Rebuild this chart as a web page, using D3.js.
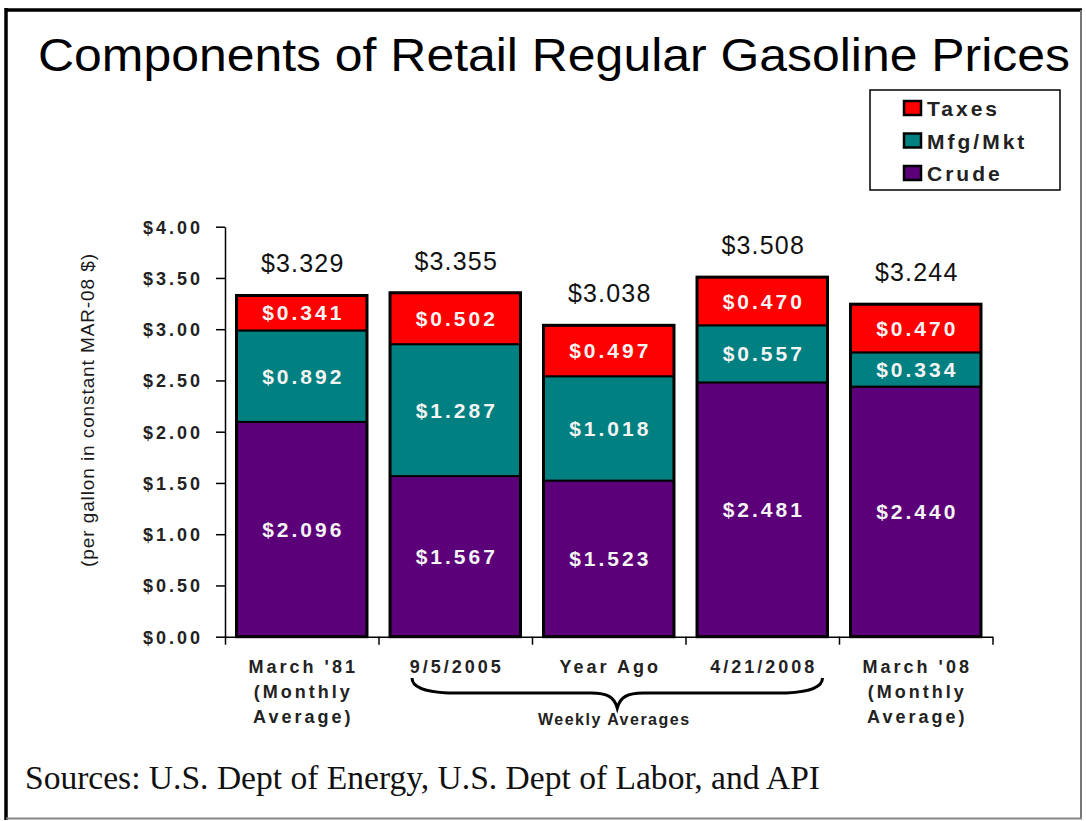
<!DOCTYPE html>
<html>
<head>
<meta charset="utf-8">
<script src="https://cdn.jsdelivr.net/npm/d3@7"></script>
<style>
  body { margin: 0; background: #fff; }
  svg { display: block; }
  text { font-family: "Liberation Sans", Arial, sans-serif; }
</style>
</head>
<body>
<svg width="1086" height="821"></svg>
<script>
// values
var categories = [
  ["March '81", "(Monthly", "Average)"],
  ["9/5/2005"],
  ["Year Ago"],
  ["4/21/2008"],
  ["March '08", "(Monthly", "Average)"]
];
var crude = [2.096, 1.567, 1.523, 2.481, 2.440];
var mfgMkt = [0.892, 1.287, 1.018, 0.557, 0.334];
var taxes = [0.341, 0.502, 0.497, 0.470, 0.470];
var totals = [3.329, 3.355, 3.038, 3.508, 3.244];
var yTicks = [0, 0.5, 1, 1.5, 2, 2.5, 3, 3.5, 4];
var seriesNames = ["Crude", "Mfg/Mkt", "Taxes"];
var legendOrder = ["Taxes", "Mfg/Mkt", "Crude"];

var svg = d3.select("svg"),
    width = +svg.attr("width"),
    height = +svg.attr("height");

var color = d3.scaleOrdinal()
  .domain(seriesNames)
  .range(["#5c0079", "#008080", "#ff0000"]);

var rows = categories.map((c, i) => ({
  key: i,
  "Crude": crude[i],
  "Mfg/Mkt": mfgMkt[i],
  "Taxes": taxes[i],
  total: totals[i]
}));

var x = d3.scaleBand()
  .domain(rows.map(d => d.key))
  .range([225, 992.5])
  .paddingInner(0.15)
  .paddingOuter(0.075);

var xEdge = d3.scaleLinear()
  .domain([0, categories.length])
  .range(x.range());

var y = d3.scaleLinear()
  .domain([0, 4])
  .range([636.7, 226.7]);

// frame
svg.append("line").attr("x1", 6).attr("y1", 10).attr("x2", 1082).attr("y2", 10)
  .attr("stroke", "#000").attr("stroke-width", 3.5);
svg.append("line").attr("x1", 6).attr("y1", 8).attr("x2", 6).attr("y2", 820)
  .attr("stroke", "#000").attr("stroke-width", 3.5);
svg.append("line").attr("x1", 1081).attr("y1", 10).attr("x2", 1081).attr("y2", 819)
  .attr("stroke", "#777").attr("stroke-width", 2);
svg.append("line").attr("x1", 6).attr("y1", 818.5).attr("x2", 1082).attr("y2", 818.5)
  .attr("stroke", "#888").attr("stroke-width", 2);

// title
svg.append("text")
  .attr("x", 38).attr("y", 71)
  .attr("textLength", 1032)
  .attr("lengthAdjust", "spacingAndGlyphs")
  .style("font-size", "46px")
  .attr("fill", "#000")
  .text("Components of Retail Regular Gasoline Prices");

// stacked bars
var stack = d3.stack().keys(seriesNames);
var layers = stack(rows);

svg.append("g")
  .selectAll("g")
  .data(layers)
  .enter().append("g")
  .attr("fill", d => color(d.key))
  .selectAll("rect")
  .data(d => d)
  .enter().append("rect")
  .attr("x", d => x(d.data.key))
  .attr("width", x.bandwidth())
  .attr("y", d => y(d[1]))
  .attr("height", d => y(d[0]) - y(d[1]))
  .attr("stroke", "#000")
  .attr("stroke-width", 2);

// outer bar outline
svg.append("g")
  .selectAll("rect")
  .data(rows)
  .enter().append("rect")
  .attr("x", d => x(d.key))
  .attr("width", x.bandwidth())
  .attr("y", d => y(d.total))
  .attr("height", d => y(0) - y(d.total))
  .attr("fill", "none")
  .attr("stroke", "#000")
  .attr("stroke-width", 3);

// segment labels
svg.append("g")
  .selectAll("g")
  .data(layers)
  .enter().append("g")
  .selectAll("text")
  .data(d => d)
  .enter().append("text")
  .attr("x", d => x(d.data.key) + x.bandwidth() / 2 + 1.5)
  .attr("y", d => (y(d[0]) + y(d[1])) / 2 + 7.5)
  .attr("text-anchor", "middle")
  .attr("fill", "#f4f4f4")
  .style("font-size", "21px")
  .style("font-weight", "bold")
  .style("letter-spacing", "3px")
  .text(d => "$" + (d[1] - d[0]).toFixed(3));

// total labels
svg.append("g")
  .selectAll("text")
  .data(rows)
  .enter().append("text")
  .attr("x", d => x(d.key) + x.bandwidth() / 2 + 1)
  .attr("y", d => y(d.total) - 23)
  .attr("text-anchor", "middle")
  .attr("fill", "#111")
  .style("font-size", "25px")
  .style("letter-spacing", "1.2px")
  .text(d => "$" + d.total.toFixed(3));

// y axis
var yAxis = svg.append("g")
  .attr("transform", "translate(225,0)")
  .call(d3.axisLeft(y)
    .tickValues(yTicks)
    .tickSize(9)
    .tickSizeOuter(0)
    .tickPadding(13)
    .tickFormat(d => "$" + d.toFixed(2)));
yAxis.select(".domain").attr("stroke", "#000").attr("stroke-width", 1.5);
yAxis.selectAll(".tick line").attr("stroke", "#000").attr("stroke-width", 1.5);
yAxis.selectAll(".tick text")
  .attr("fill", "#222")
  .style("font-family", "'Liberation Sans', Arial, sans-serif")
  .style("font-size", "18px")
  .style("font-weight", "bold")
  .style("letter-spacing", "3px")
  .attr("dy", "0.36em");

// x axis with ticks on band edges
var xAxis = svg.append("g")
  .attr("transform", "translate(0," + y(0) + ")")
  .call(d3.axisBottom(xEdge)
    .tickValues(d3.range(categories.length + 1))
    .tickSize(8)
    .tickSizeOuter(0)
    .tickFormat(""));
xAxis.select(".domain").attr("stroke", "#000").attr("stroke-width", 1.5);
xAxis.selectAll(".tick line").attr("stroke", "#000").attr("stroke-width", 1.5);

// category labels
svg.append("g")
  .selectAll("text")
  .data(categories)
  .enter().append("text")
  .attr("x", (d, i) => x(i) + x.bandwidth() / 2 + 1.5)
  .attr("y", 673)
  .attr("text-anchor", "middle")
  .attr("fill", "#222")
  .style("font-size", "18px")
  .style("font-weight", "bold")
  .style("letter-spacing", "3px")
  .selectAll("tspan")
  .data(d => d)
  .enter().append("tspan")
  .attr("x", function () { return d3.select(this.parentNode).attr("x"); })
  .attr("dy", (d, i) => i === 0 ? 0 : 25)
  .text(d => d);

// brace under the weekly averages
var bl = x(1) + 22,
    br = x(3) + x.bandwidth() - 5,
    bm = (bl + br) / 2,
    bt = 678, bh = 693, bp = 708;
svg.append("path")
  .attr("d",
    "M" + bl + "," + bt +
    " C" + bl + "," + (bt + 10) + " " + (bl + 14) + "," + (bh - 1) + " " + (bl + 36) + "," + bh +
    " L" + (bm - 26) + "," + bh +
    " C" + (bm - 10) + "," + bh + " " + (bm - 3) + "," + (bh + 4) + " " + bm + "," + bp +
    " C" + (bm + 3) + "," + (bh + 4) + " " + (bm + 10) + "," + bh + " " + (bm + 26) + "," + bh +
    " L" + (br - 36) + "," + bh +
    " C" + (br - 14) + "," + (bh - 1) + " " + br + "," + (bt + 10) + " " + br + "," + bt)
  .attr("fill", "none")
  .attr("stroke", "#000")
  .attr("stroke-width", 3);

svg.append("text")
  .attr("x", bm - 3)
  .attr("y", 725)
  .attr("text-anchor", "middle")
  .attr("fill", "#222")
  .style("font-size", "16px")
  .style("font-weight", "bold")
  .style("letter-spacing", "1.5px")
  .text("Weekly Averages");

// y axis title
svg.append("text")
  .attr("transform", "translate(94,410) rotate(-90)")
  .attr("text-anchor", "middle")
  .attr("fill", "#1a1a1a")
  .style("font-size", "19px")
  .style("letter-spacing", "0.9px")
  .text("(per gallon in constant MAR-08 $)");

// legend
var legend = svg.append("g");
legend.append("rect")
  .attr("x", 870).attr("y", 90)
  .attr("width", 190).attr("height", 100)
  .attr("fill", "#fff")
  .attr("stroke", "#000")
  .attr("stroke-width", 1.5);

var item = legend.selectAll(".item")
  .data(legendOrder)
  .enter().append("g")
  .attr("class", "item")
  .attr("transform", (d, i) => "translate(904," + (101 + i * 32.5) + ")");

item.append("rect")
  .attr("width", 17).attr("height", 14)
  .attr("fill", d => color(d))
  .attr("stroke", "#000")
  .attr("stroke-width", 2.5);

item.append("text")
  .attr("x", 23).attr("y", 15)
  .attr("fill", "#222")
  .style("font-size", "21px")
  .style("font-weight", "bold")
  .style("letter-spacing", "3px")
  .text(d => d);

// sources
svg.append("text")
  .attr("x", 25).attr("y", 789)
  .attr("textLength", 795)
  .attr("lengthAdjust", "spacingAndGlyphs")
  .attr("fill", "#111")
  .style("font-family", "'Liberation Serif', 'Times New Roman', serif")
  .style("font-size", "33px")
  .text("Sources: U.S. Dept of Energy, U.S. Dept of Labor, and API");
</script>
</body>
</html>
